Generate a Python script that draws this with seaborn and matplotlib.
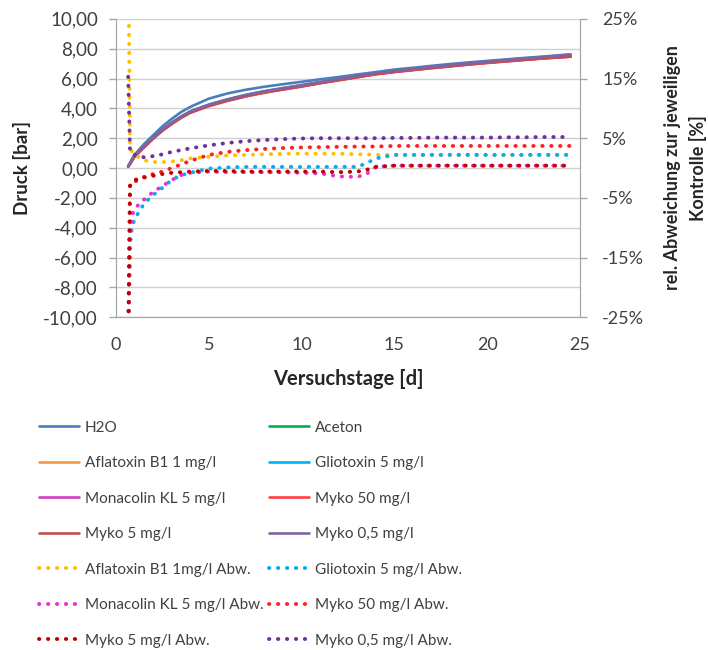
import numpy as np
import pandas as pd
import matplotlib
matplotlib.use("Agg")
import matplotlib.pyplot as plt
from matplotlib.ticker import FuncFormatter
import seaborn as sns

# Versuchstage
days = [0.65, 0.75, 0.85, 1.0, 1.5, 2.0, 2.5, 3.0, 3.5, 4.0, 5.0, 6.0, 7.0, 8.0, 9.0, 10.0,
        11.0, 12.0, 13.0, 13.5, 14.0, 15.0, 16.0, 17.0, 18.0, 19.0, 20.0, 21.0, 22.0, 23.0, 24.5]

# Druck [bar]
h2o = [0.1, 0.35, 0.6, 0.9, 1.6, 2.2, 2.8, 3.3, 3.75, 4.1, 4.65, 5.0, 5.25, 5.45, 5.62, 5.78,
       5.95, 6.1, 6.27, 6.35, 6.43, 6.6, 6.72, 6.85, 6.97, 7.08, 7.18, 7.28, 7.38, 7.47, 7.62]
aceton = [0.1, 0.3, 0.5, 0.8, 1.4, 2.0, 2.55, 3.0, 3.4, 3.75, 4.2, 4.55, 4.85, 5.1, 5.3, 5.5,
          5.72, 5.92, 6.12, 6.22, 6.32, 6.47, 6.6, 6.73, 6.85, 6.97, 7.08, 7.18, 7.28, 7.37, 7.5]
aflatoxin = [0.1, 0.3, 0.5, 0.8, 1.4, 2.0, 2.55, 3.0, 3.42, 3.78, 4.22, 4.57, 4.87, 5.12, 5.32, 5.52,
             5.73, 5.93, 6.13, 6.23, 6.33, 6.48, 6.61, 6.74, 6.86, 6.98, 7.09, 7.19, 7.29, 7.38, 7.5]
gliotoxin = [0.1, 0.3, 0.5, 0.82, 1.42, 2.02, 2.58, 3.03, 3.44, 3.8, 4.25, 4.6, 4.9, 5.15, 5.35, 5.55,
             5.75, 5.95, 6.15, 6.25, 6.35, 6.5, 6.62, 6.75, 6.87, 6.99, 7.1, 7.2, 7.3, 7.4, 7.52]
monacolin = [0.1, 0.28, 0.48, 0.78, 1.38, 1.98, 2.52, 2.97, 3.38, 3.72, 4.17, 4.52, 4.82, 5.07, 5.28, 5.48,
             5.7, 5.9, 6.1, 6.2, 6.3, 6.45, 6.58, 6.71, 6.83, 6.95, 7.06, 7.16, 7.26, 7.36, 7.48]
myko50 = [0.1, 0.28, 0.48, 0.78, 1.38, 1.97, 2.5, 2.95, 3.36, 3.7, 4.15, 4.5, 4.8, 5.05, 5.26, 5.46,
          5.68, 5.88, 6.08, 6.18, 6.28, 6.43, 6.56, 6.69, 6.81, 6.93, 7.04, 7.14, 7.24, 7.34, 7.46]
myko5 = [0.1, 0.3, 0.5, 0.8, 1.4, 2.0, 2.53, 2.98, 3.38, 3.73, 4.18, 4.53, 4.83, 5.08, 5.28, 5.48,
         5.7, 5.9, 6.1, 6.2, 6.3, 6.45, 6.58, 6.71, 6.83, 6.95, 7.06, 7.16, 7.26, 7.35, 7.47]
myko05 = [0.1, 0.32, 0.52, 0.82, 1.43, 2.03, 2.6, 3.05, 3.45, 3.8, 4.25, 4.6, 4.9, 5.15, 5.36, 5.56,
          5.77, 5.97, 6.17, 6.27, 6.37, 6.52, 6.65, 6.78, 6.9, 7.02, 7.13, 7.24, 7.34, 7.44, 7.6]

# rel. Abweichung zur Kontrolle [%]
afla_abw = [40.0, 4.0, 2.8, 2.2, 1.3, 1.0, 1.0, 1.1, 1.3, 1.6, 1.9, 2.1, 2.2, 2.3, 2.4, 2.4,
            2.4, 2.4, 2.3, 2.3, 2.2, 2.2, 2.2, 2.2, 2.2, 2.2, 2.2, 2.2, 2.2, 2.2, 2.2]
glio_abw = [-30.0, -13.0, -10.0, -8.5, -6.0, -4.5, -3.3, -2.0, -1.2, -0.8, -0.1, 0.1, 0.2, 0.2, 0.2, 0.2,
            0.2, 0.2, 0.2, 0.8, 1.6, 2.2, 2.2, 2.2, 2.2, 2.2, 2.2, 2.2, 2.2, 2.2, 2.2]
mona_abw = [-30.0, -12.0, -8.0, -6.8, -5.3, -4.0, -3.0, -2.0, -1.2, -0.8, -0.6, -0.7, -0.7, -0.7, -0.7, -0.8,
            -0.9, -1.4, -1.5, -1.0, 0.2, 0.4, 0.4, 0.4, 0.4, 0.4, 0.4, 0.4, 0.4, 0.4, 0.4]
myko50_abw = [-30.0, -2.6, -2.4, -2.3, -1.5, -1.0, -0.6, 0.0, 0.6, 1.2, 2.2, 2.7, 3.0, 3.2, 3.35, 3.45,
              3.5, 3.55, 3.6, 3.6, 3.6, 3.7, 3.7, 3.7, 3.7, 3.7, 3.7, 3.7, 3.7, 3.7, 3.7]
myko5_abw = [-30.0, -3.0, -2.5, -2.0, -1.6, -1.3, -1.0, -0.8, -0.7, -0.6, -0.5, -0.5, -0.6, -0.6, -0.6, -0.6,
             -0.6, -0.7, -0.6, -0.3, 0.2, 0.4, 0.4, 0.4, 0.4, 0.4, 0.4, 0.4, 0.4, 0.4, 0.4]
myko05_abw = [15.3, 2.8, 2.5, 2.2, 1.8, 2.0, 2.3, 2.7, 3.0, 3.3, 3.8, 4.2, 4.5, 4.7, 4.85, 4.95,
              5.0, 5.0, 5.0, 5.0, 5.0, 5.05, 5.05, 5.1, 5.1, 5.1, 5.1, 5.15, 5.15, 5.2, 5.2]

solid = [
    ("H2O", h2o, "#4A7EBB"),
    ("Aceton", aceton, "#00B050"),
    ("Aflatoxin B1 1 mg/l", aflatoxin, "#F79646"),
    ("Gliotoxin 5 mg/l", gliotoxin, "#00B0F0"),
    ("Monacolin KL 5 mg/l", monacolin, "#D23CC3"),
    ("Myko 50 mg/l", myko50, "#FF3F3F"),
    ("Myko 5 mg/l", myko5, "#C0504D"),
    ("Myko 0,5 mg/l", myko05, "#8064A2"),
]
dotted = [
    ("Aflatoxin B1 1mg/l Abw.", afla_abw, "#FFC000"),
    ("Gliotoxin 5 mg/l Abw.", glio_abw, "#00B0F0"),
    ("Monacolin KL 5 mg/l Abw.", mona_abw, "#E633CC"),
    ("Myko 50 mg/l Abw.", myko50_abw, "#FF2020"),
    ("Myko 5 mg/l Abw.", myko5_abw, "#C00000"),
    ("Myko 0,5 mg/l Abw.", myko05_abw, "#7030A0"),
]

sns.set_style("white")
plt.rcParams["font.family"] = ["Lato", "DejaVu Sans"]
text_col = "#404040"

fig = plt.figure(figsize=(7.08, 6.5), dpi=100)
ax = fig.add_axes([0.164, 0.512, 0.655, 0.459])
ax2 = ax.twinx()

handles = {}
for name, vals, col in solid:
    sns.lineplot(x=days, y=vals, ax=ax, color=col, linewidth=1.9, legend=False)
    handles[name] = ax.lines[-1]

dot = (0, (0.1, 2.2))
for name, vals, col in dotted:
    sns.lineplot(x=days, y=vals, ax=ax2, color=col, linewidth=2.8, linestyle=dot,
                 dash_capstyle="round", legend=False)
    handles[name] = ax2.lines[-1]

ax.set_xlim(0, 25)
ax.set_ylim(-10, 10)
ax.set_xticks([0, 5, 10, 15, 20, 25])
ax.set_yticks(np.arange(-10, 11, 2))
ax.yaxis.set_major_formatter(FuncFormatter(lambda v, p: f"{v:.2f}".replace(".", ",")))
ax.grid(axis="y", color="#D0D0D0", linewidth=1)
ax.set_axisbelow(True)

ax2.set_ylim(-25, 25)
ax2.set_yticks([-25, -15, -5, 5, 15, 25])
ax2.yaxis.set_major_formatter(FuncFormatter(lambda v, p: f"{v:.0f}%"))

for a in (ax, ax2):
    for s in a.spines.values():
        s.set_color("#A6A6A6")
    a.spines["top"].set_visible(False)
    a.tick_params(colors="#A6A6A6", labelcolor=text_col, length=5, width=1)

ax.tick_params(axis="y", labelsize=13.5, pad=8)
ax.tick_params(axis="x", labelsize=13, pad=9)
ax2.tick_params(axis="y", labelsize=13, pad=11)

ax.set_xlabel("Versuchstage [d]", fontsize=14.5, fontweight="bold", color="#262626", labelpad=12)
ax.set_ylabel("Druck [bar]", fontsize=13.5, fontweight="bold", color="#262626", labelpad=9)
ax2.set_ylabel("rel. Abweichung zur jeweiligen\nKontrolle [%]", fontsize=13, fontweight="bold",
               color="#262626", labelpad=14, linespacing=1.55)

order = ["H2O", "Aflatoxin B1 1 mg/l", "Monacolin KL 5 mg/l", "Myko 5 mg/l",
         "Aflatoxin B1 1mg/l Abw.", "Monacolin KL 5 mg/l Abw.", "Myko 5 mg/l Abw.",
         "Aceton", "Gliotoxin 5 mg/l", "Myko 50 mg/l", "Myko 0,5 mg/l",
         "Gliotoxin 5 mg/l Abw.", "Myko 50 mg/l Abw.", "Myko 0,5 mg/l Abw."]
leg = fig.legend([handles[n] for n in order], order, ncol=2, loc="upper left",
                 bbox_to_anchor=(0.055, 0.353), frameon=False, fontsize=11,
                 handlelength=2.6, handletextpad=0.42, columnspacing=0.35,
                 labelspacing=1.41, borderpad=0, borderaxespad=0)
for t in leg.get_texts():
    t.set_color(text_col)

fig.savefig("out.png", dpi=100)
